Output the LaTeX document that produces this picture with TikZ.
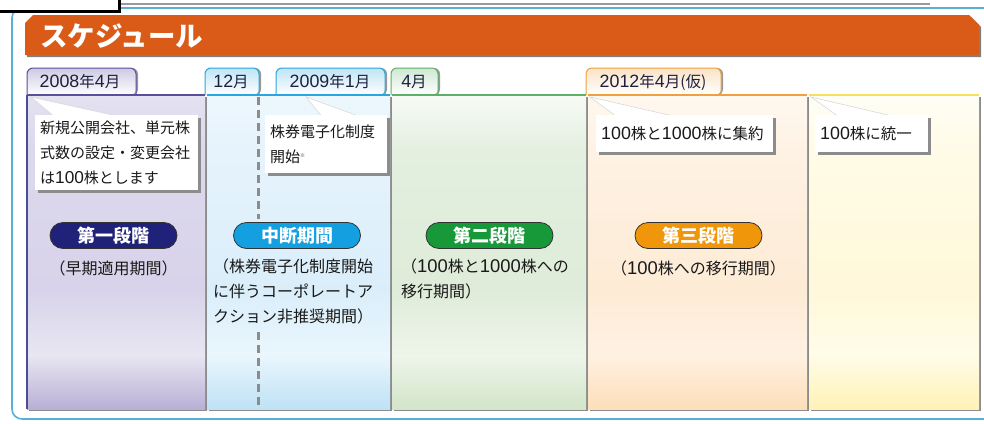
\documentclass[tikz,border=0pt]{standalone}
\usepackage{fontspec}
\setmainfont{Noto Sans CJK JP}
\newfontfamily\latn{Liberation Sans}[Scale=1.15]
\newcommand\D[1]{{\latn #1}}
\usetikzlibrary{shapes.misc,shadows,calc}

\definecolor{hdr}{HTML}{DA5B17}
\definecolor{framec}{HTML}{5AB0D2}
\definecolor{tabtxt}{HTML}{1E2040}
\definecolor{pA}{HTML}{5A4F9C}
\definecolor{pB}{HTML}{2AA6DE}
\definecolor{pC}{HTML}{5DB06A}
\definecolor{pD}{HTML}{F0A040}
\definecolor{pE}{HTML}{F7E05A}
% column shading colours: bottom, y355, y290, y150, top
\definecolor{a0}{HTML}{B8B0D5}\definecolor{a1}{HTML}{E8E6F2}\definecolor{a2}{HTML}{D8D3EA}\definecolor{a3}{HTML}{DCD8EC}\definecolor{a4}{HTML}{E4E1F1}
\definecolor{b0}{HTML}{BEE2F6}\definecolor{b1}{HTML}{EAF6FD}\definecolor{b2}{HTML}{DAEEFA}\definecolor{b3}{HTML}{E6F3FC}\definecolor{b4}{HTML}{EDF7FD}
\definecolor{c0}{HTML}{D2E5C9}\definecolor{c1}{HTML}{EEF5EA}\definecolor{c2}{HTML}{DFECD9}\definecolor{c3}{HTML}{E3EFDF}\definecolor{c4}{HTML}{F7FBF5}
\definecolor{d0}{HTML}{FDDFB8}\definecolor{d1}{HTML}{FFF1E2}\definecolor{d2}{HTML}{FDEBD5}\definecolor{d3}{HTML}{FEF2E4}\definecolor{d4}{HTML}{FFF8EF}
\definecolor{e0}{HTML}{FFF2B6}\definecolor{e1}{HTML}{FFFCE8}\definecolor{e2}{HTML}{FFF8DA}\definecolor{e3}{HTML}{FFFBE6}\definecolor{e4}{HTML}{FFFEF6}
\pgfdeclareverticalshading{shA}{100bp}{color(0bp)=(a0); color(25bp)=(a0); color(33.6bp)=(a1); color(44bp)=(a2); color(66bp)=(a3); color(75bp)=(a4); color(100bp)=(a4)}
\pgfdeclareverticalshading{shB}{100bp}{color(0bp)=(b0); color(25bp)=(b0); color(33.6bp)=(b1); color(44bp)=(b2); color(66bp)=(b3); color(75bp)=(b4); color(100bp)=(b4)}
\pgfdeclareverticalshading{shC}{100bp}{color(0bp)=(c0); color(25bp)=(c0); color(33.6bp)=(c1); color(44bp)=(c2); color(66bp)=(c3); color(75bp)=(c4); color(100bp)=(c4)}
\pgfdeclareverticalshading{shD}{100bp}{color(0bp)=(d0); color(25bp)=(d0); color(33.6bp)=(d1); color(44bp)=(d2); color(66bp)=(d3); color(75bp)=(d4); color(100bp)=(d4)}
\pgfdeclareverticalshading{shE}{100bp}{color(0bp)=(e0); color(25bp)=(e0); color(33.6bp)=(e1); color(44bp)=(e2); color(66bp)=(e3); color(75bp)=(e4); color(100bp)=(e4)}
\definecolor{pill1}{HTML}{1F2278}
\definecolor{pill2}{HTML}{14A0E0}
\definecolor{pill3}{HTML}{17993A}
\definecolor{pill4}{HTML}{F0960A}

\begin{document}
\begin{tikzpicture}[x=1pt,y=-1pt,
  colbox/.style={shade, anchor=north west, inner sep=0, draw=none,
    drop shadow={shadow xshift=2pt, shadow yshift=-2pt, fill=black!45, opacity=1}},
  callout/.style={fill=white, anchor=north west, align=left, inner xsep=5pt, inner ysep=0pt,
    font=\fontsize{15}{25}\selectfont, text=black!90,
    drop shadow={shadow xshift=2.5pt, shadow yshift=-2.5pt, fill=black!45, opacity=1}},
  wedge/.style={fill=white, draw=black!15, line width=0.6},
  pill/.style={rounded rectangle, draw=black!80, line width=0.8, minimum width=127pt,
    minimum height=26pt, inner sep=0pt, text=white, font=\bfseries\fontsize{18}{18}\selectfont},
  subtxt/.style={font=\fontsize{16}{25}\selectfont, text=black!90, inner sep=0pt},
  tabtext/.style={font=\fontsize{15.5}{15}\selectfont, text=tabtxt, inner sep=0pt},
  dashline/.style={draw=black!45, line width=3, dash pattern=on 8pt off 5pt}
]
\useasboundingbox (0,0) rectangle (984,423);

% outer frame
\draw[framec, line width=1.6, rounded corners=10] (984,8) -- (12,8) -- (12,419) -- (984,419);
\draw[black!40, line width=2] (120,4) -- (930,4);

% header banner
\fill[black!50, shift={(2,2)}] (25,55) -- (25,23) -- (33,15) -- (969,15) -- (979,25) -- (979,55) -- cycle;
\fill[hdr] (25,55) -- (25,23) -- (33,15) -- (969,15) -- (979,25) -- (979,55) -- cycle;
\node[anchor=west, text=white, inner sep=0, font=\bfseries\fontsize{27.5}{27}\selectfont] (title) at (40,35.5) {スケジュール};

% tabs
\foreach \xa/\xb/\bc [count=\i] in {27/136/pA, 205/259/pB, 276/385/pB, 391/438/pC, 586/721/pD}{
  \fill[black!40, rounded corners=6] (\xa+2,95) -- (\xa+2,68) -- (\xb+2,68) -- (\xb+2,95) -- cycle;
  \shade[top color=\bc!30, bottom color=white, rounded corners=6] (\xa,95) -- (\xa,68) -- (\xb,68) -- (\xb,95) -- cycle;
  \draw[\bc, line width=1, rounded corners=6] (\xa,95) -- (\xa,68) -- (\xb,68) -- (\xb,95);
}
\node[tabtext] (t1) at (80,82) {\D{2008}年\D{4}月};
\node[tabtext] (t2) at (231,82) {\D{12}月};
\node[tabtext] (t3) at (330,82) {\D{2009}年\D{1}月};
\node[tabtext] (t4) at (414,82) {\D{4}月};
\node[tabtext] (t5) at (653,82) {\D{2012}年\D{4}月(仮)};

% columns
\node[colbox, shading=shA, minimum width=178pt, minimum height=314pt] (k1) at (27,95) {};
\node[colbox, shading=shB, minimum width=183pt, minimum height=314pt] (k2) at (207,95) {};
\node[colbox, shading=shC, minimum width=194pt, minimum height=314pt] (k3) at (392,95) {};
\node[colbox, shading=shD, minimum width=219pt, minimum height=314pt] (k4) at (588,95) {};
\node[colbox, shading=shE, minimum width=170pt, minimum height=314pt] (k5) at (809,95) {};
\draw[pA, line width=2] (k1.north west) -- (k1.north east);
\draw[pB, line width=2] (k2.north west) -- (k2.north east);
\draw[pC, line width=2] (k3.north west) -- (k3.north east);
\draw[pD, line width=2] (k4.north west) -- (k4.north east);
\draw[pE, line width=2] (k5.north west) -- (k5.north east);
\draw[pill1!80, line width=1.5] (k1.north west) -- (k1.south west);

% dashed line
\coordinate (d1) at (258,97);
\coordinate (d2) at (258,219);
\coordinate (d3) at (258,332);
\coordinate (d4) at (258,409);
\draw[dashline] (d1) -- (d2);
\draw[dashline] (d3) -- (d4);

% callouts
\coordinate (ap1) at (31,97);
\coordinate (ap2) at (306,97);
\coordinate (ap3) at (590,97);
\coordinate (ap4) at (811,97);
\path (35,115) coordinate (cb1) (265,115) coordinate (cb2) (596,115) coordinate (cb3) (815,115) coordinate (cb4);
\draw[wedge] (ap1) -- ($(cb1)+(18,0.5)$) -- ($(cb1)+(80,0.5)$) -- cycle;
\draw[wedge] (ap2) -- ($(cb2)+(56,0.5)$) -- ($(cb2)+(92,0.5)$) -- cycle;
\draw[wedge] (ap3) -- ($(cb3)+(19,0.5)$) -- ($(cb3)+(75,0.5)$) -- cycle;
\draw[wedge] (ap4) -- ($(cb4)+(22,0.5)$) -- ($(cb4)+(75,0.5)$) -- cycle;
\node[callout, text width=153pt, minimum height=75pt] (c1) at (cb1) {新規公開会社、単元株\\式数の設定・変更会社\\は\D{100}株とします};
\node[callout, text width=112pt, minimum height=58pt] (c2) at (cb2) {株券電子化制度\\開始\textsuperscript{\tiny ※}};
\node[callout, text width=167pt, minimum height=37pt, font=\fontsize{15.5}{25}\selectfont] (c3) at (cb3) {\D{100}株と\D{1000}株に集約};
\node[callout, text width=103pt, minimum height=37pt, font=\fontsize{15.5}{25}\selectfont] (c4) at (cb4) {\D{100}株に統一};

% pills
\node[pill, fill=pill1] (p1) at (113.5,235.5) {第一段階};
\node[pill, fill=pill2] (p2) at (297,235.5) {中断期間};
\node[pill, fill=pill3] (p3) at (489.5,235.5) {第二段階};
\node[pill, fill=pill4] (p4) at (698.5,235.5) {第三段階};

% sub texts
\node[subtxt] (s1) at (113.5,268) {（早期適用期間）};
\node[subtxt, anchor=north west, align=left] (s2) at (213,259) {（株券電子化制度開始\\に伴うコーポレートア\\クション非推奨期間）};
\node[subtxt, anchor=north west, align=left] (s3) at (401,259) {（\D{100}株と\D{1000}株への\\移行期間）};
\node[subtxt] (s4) at (698.5,268) {（\D{100}株への移行期間）};

% black box top-left
\draw[black, line width=3, fill=white] (-3,-3) rectangle (119.5,11.5);
\end{tikzpicture}
\end{document}
